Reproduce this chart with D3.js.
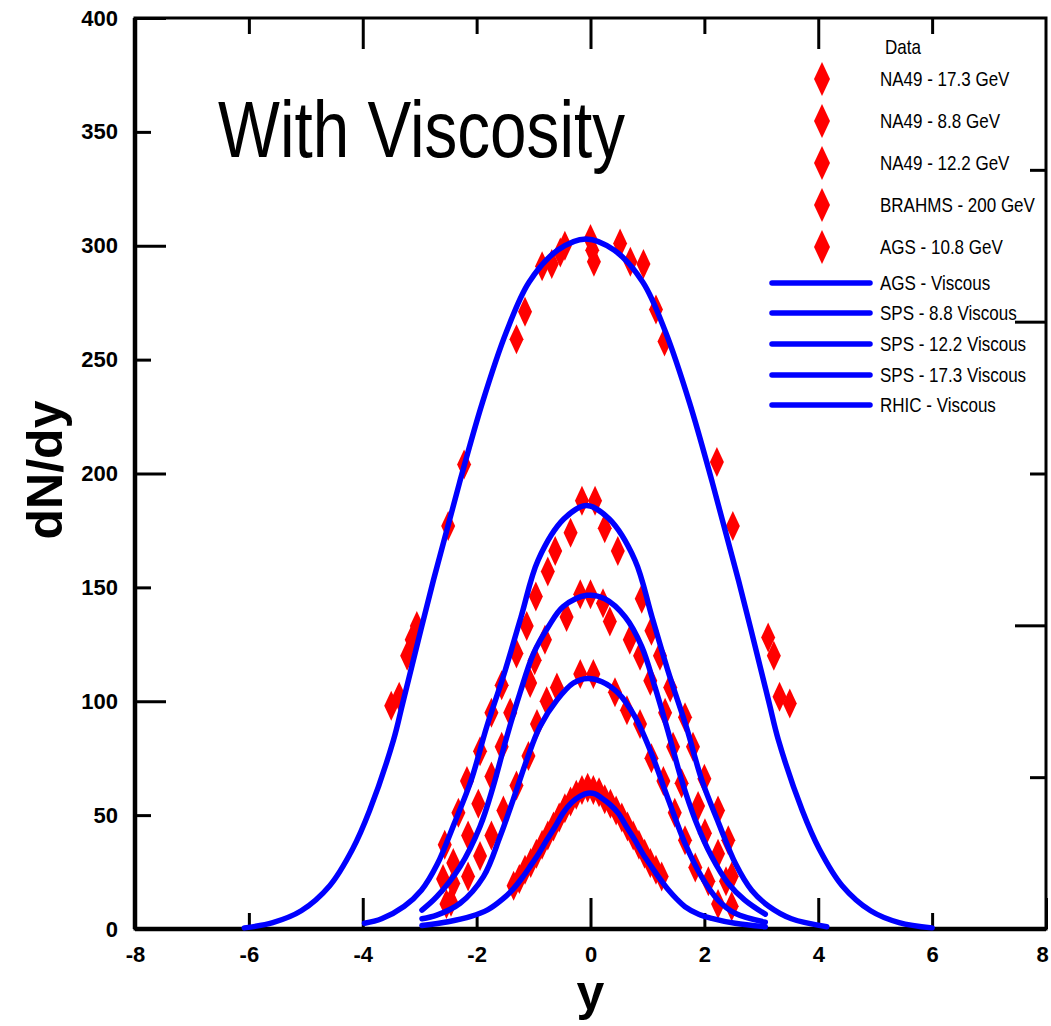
<!DOCTYPE html>
<html>
<head>
<meta charset="utf-8">
<script src="https://cdn.jsdelivr.net/npm/d3@7"></script>
<style>
  body { margin: 0; background: #fff; }
  svg { display: block; }
  text { font-family: "Liberation Sans", Arial, sans-serif; fill: #000; }
</style>
</head>
<body>
<svg id="chart" width="1051" height="1026"></svg>
<script>
// data: [y, dN/dy]
const brahms200 = [[-3.5,98],[-3.36,102],[-3.22,120],[-3.14,127],[-3.05,133],[-2.5,177],[-2.22,204],
  [-1.3,259],[-1.15,271],[-0.85,291],[-0.68,292],[-0.53,297],[-0.45,300],[0,303],[0.03,298],[0.06,293],
  [0.52,301],[0.7,293],[0.93,292],[1.15,272],[1.3,258],[2.22,205],[2.5,177],[3.12,128],[3.22,120],[3.32,102],[3.5,99]];

const na49_173 = [[-2.53,11],[-2.59,22],[-2.56,37],[-2.32,51],[-2.17,65],[-1.94,78],[-1.74,95],[-1.56,107],
  [-1.3,121],[-1.12,133],[-0.96,146],[-0.75,157],[-0.62,166],[-0.35,174],[-0.15,188],[0.08,188],[0.25,176],
  [0.48,166],[0.9,145],[1.07,131],[1.22,120],[1.4,106],[1.66,93],[1.8,80],[2.0,66],[2.24,52],[2.42,39],[2.48,23],[2.48,10]];

const na49_122 = [[-2.45,12],[-2.41,20],[-2.41,29],[-2.15,41],[-1.97,55],[-1.74,67],[-1.56,80],[-1.41,95],
  [-1.06,108],[-0.98,118],[-0.8,127],[-0.42,137],[-0.18,147],[0,147],[0.22,143],[0.34,135],[0.69,127],
  [0.87,120],[1.05,109],[1.31,95],[1.45,80],[1.6,64],[1.89,54],[2.01,42],[2.24,33],[2.38,21],[2.24,11]];

const na49_88 = [[-2.15,23],[-1.94,32],[-1.74,41],[-1.53,52],[-1.3,63],[-1.09,76],[-0.94,90],[-0.77,100],
  [-0.59,106],[-0.18,112],[0.05,112],[0.43,104],[0.64,96],[0.87,90],[1.07,75],[1.28,65],[1.48,51],
  [1.66,39],[1.84,27],[2.07,21]];

const ags108 = [[-1.35,19],[-1.25,22],[-1.15,26],[-1.05,29],[-0.95,33],[-0.85,37],[-0.75,41],[-0.65,45],
  [-0.55,49],[-0.45,53],[-0.35,56],[-0.25,59],[-0.15,61],[-0.05,62],[0.05,61],[0.15,60],[0.25,57],
  [0.35,55],[0.45,52],[0.55,49],[0.65,45],[0.75,41],[0.85,37],[0.95,33],[1.05,29],[1.15,26],[1.25,23]];

// viscous hydro curves
const agsViscous = [[-2.96,1.5],[-2.5,3.2],[-2.1,5.5],[-1.8,8.5],[-1.55,13],[-1.36,17.5],[-1.2,22.5],
  [-1.06,27.5],[-0.9,33.5],[-0.77,39],[-0.62,45],[-0.48,51],[-0.33,55.5],[-0.18,58.3],[-0.05,59.6],
  [0.08,59.3],[0.2,57.4],[0.35,54.5],[0.49,50.8],[0.63,45],[0.78,39],[0.92,33],[1.07,27.4],[1.22,22],
  [1.37,17.1],[1.52,13],[1.66,9.8],[1.9,6.5],[2.13,4.7],[2.54,2.5],[3.07,1]];

const sps88Viscous = [[-2.96,4.5],[-2.7,6.1],[-2.29,11.3],[-1.88,23],[-1.59,40.5],[-1.36,56.6],[-1.12,74.2],
  [-0.89,88.8],[-0.59,100.5],[-0.3,108],[-0.05,110],[0.2,108.6],[0.49,103.5],[0.78,93.2],[1.07,77.1],
  [1.37,56.6],[1.66,37.6],[1.95,23],[2.24,12.7],[2.54,6.9],[3.07,3]];

const sps122Viscous = [[-2.96,8.3],[-2.7,14.2],[-2.29,27.4],[-1.94,45],[-1.71,62.5],[-1.47,84.4],
  [-1.24,103.5],[-1.0,121],[-0.74,132.7],[-0.48,141.5],[-0.06,146.5],[0.25,145],[0.61,137],[0.9,124],
  [1.13,106.4],[1.37,86],[1.6,65.4],[1.84,47.9],[2.13,31.7],[2.42,20],[2.71,12.7],[3.07,6.5]];

const sps173Viscous = [[-3.97,2.5],[-3.67,4.5],[-3.27,10],[-2.97,17],[-2.69,28.5],[-2.39,46.5],[-2.1,65],
  [-1.82,89],[-1.53,111],[-1.22,137],[-0.92,162],[-0.47,180],[-0.07,186],[0.33,180],[0.78,162],
  [1.08,137],[1.39,111],[1.68,89],[1.96,65],[2.25,46.5],[2.55,28.5],[2.83,17],[3.13,10],[3.53,4.5],[4.15,1]];

const rhicViscous = [[-6.08,0.5],[-5.58,2.8],[-5.08,8],[-4.58,19],[-4.18,35],[-3.88,52],[-3.46,83],
  [-3.29,100],[-2.76,153],[-2.3,196],[-1.9,231],[-1.48,262],[-1.08,284],[-0.58,298],[-0.08,303],
  [0.42,298],[0.92,284],[1.32,262],[1.74,231],[2.14,196],[2.6,153],[3.13,100],[3.3,83],[3.72,52],
  [4.02,35],[4.42,19],[4.92,8],[5.42,2.8],[6.0,0.5]];

const dataSeries = [
  {name: "NA49 - 17.3 GeV", values: na49_173},
  {name: "NA49 - 8.8 GeV", values: na49_88},
  {name: "NA49 - 12.2 GeV", values: na49_122},
  {name: "BRAHMS - 200 GeV", values: brahms200},
  {name: "AGS - 10.8 GeV", values: ags108}
];
const curveSeries = [
  {name: "AGS - Viscous", values: agsViscous},
  {name: "SPS - 8.8 Viscous", values: sps88Viscous},
  {name: "SPS - 12.2 Viscous", values: sps122Viscous},
  {name: "SPS - 17.3 Viscous", values: sps173Viscous},
  {name: "RHIC - Viscous", values: rhicViscous}
];

const xTicks = [-8, -6, -4, -2, 0, 2, 4, 6, 8];
const yTicks = [0, 50, 100, 150, 200, 250, 300, 350, 400];

const svg = d3.select("#chart");
const plotLeft = 135, plotRight = 1046, plotTop = 18, plotBottom = 929;

const x = d3.scaleLinear().domain([-8, 8]).range([plotLeft, plotRight]);
const y = d3.scaleLinear().domain([0, 400]).range([plotBottom, plotTop]);
const yRight = d3.scaleLinear().domain([0, 6]).range([plotBottom, plotTop]); // unlabelled right axis

const longTick = 31, shortTick = 16;

// bottom axis
const gx = svg.append("g").attr("transform", `translate(0,${plotBottom})`)
  .call(d3.axisBottom(x).tickValues(xTicks).tickSizeInner(-longTick).tickSizeOuter(0)
    .tickPadding(17).tickFormat(d => String(d)));
gx.selectAll(".tick line").attr("y2", d => d % 4 === 0 ? -longTick : -shortTick);
gx.selectAll(".tick text").filter(d => d === 8).attr("x", -4); // keep last label inside the page

// left axis
const gy = svg.append("g").attr("transform", `translate(${plotLeft},0)`)
  .call(d3.axisLeft(y).tickValues(yTicks).tickSizeInner(-longTick).tickSizeOuter(0)
    .tickPadding(17).tickFormat(d => String(d)));
gy.selectAll(".tick line").attr("x2", d => d % 100 === 0 ? longTick : shortTick);

// top axis, no labels
const gt = svg.append("g").attr("transform", `translate(0,${plotTop})`)
  .call(d3.axisTop(x).tickValues([-6, -4, -2, 0, 2, 4, 6]).tickSizeInner(-longTick).tickSizeOuter(0).tickFormat(""));
gt.selectAll(".tick line").attr("y2", d => d % 4 === 0 ? longTick : shortTick);

// right axis, no labels
const gr = svg.append("g").attr("transform", `translate(${plotRight},0)`)
  .call(d3.axisRight(yRight).tickValues([1, 2, 3, 4, 5]).tickSizeInner(-longTick).tickSizeOuter(0).tickFormat(""));
gr.selectAll(".tick line").attr("x2", d => d % 2 === 0 ? -longTick : -shortTick);

svg.selectAll(".domain").remove();
svg.selectAll(".tick line").attr("stroke", "#000").attr("stroke-width", 3);
svg.selectAll(".tick text")
  .style("font-family", "'Liberation Sans', Arial, sans-serif")
  .style("font-size", "22px").style("font-weight", "bold").attr("fill", "#000");

// frame
svg.append("rect")
  .attr("x", plotLeft).attr("y", plotTop).attr("width", plotRight - plotLeft).attr("height", plotBottom - plotTop)
  .attr("fill", "none").attr("stroke", "#000").attr("stroke-width", 3);
svg.append("line").attr("x1", plotLeft).attr("x2", plotLeft).attr("y1", plotTop).attr("y2", plotBottom)
  .attr("stroke", "#000").attr("stroke-width", 4.5);
svg.append("line").attr("x1", plotLeft).attr("x2", plotRight).attr("y1", plotBottom).attr("y2", plotBottom)
  .attr("stroke", "#000").attr("stroke-width", 4.5);

// diamonds
const diamond = (w, h) => `M0,${-h / 2}L${w / 2},0L0,${h / 2}L${-w / 2},0Z`;

dataSeries.forEach(s => {
  svg.append("g").selectAll("path").data(s.values).join("path")
    .attr("d", diamond(14, 30))
    .attr("transform", d => `translate(${x(d[0])},${y(d[1])})`)
    .attr("fill", "#ff0000");
});

// curves on top
const line = d3.line().x(d => x(d[0])).y(d => y(d[1])).curve(d3.curveCatmullRom.alpha(0.5));
svg.append("g").selectAll("path").data(curveSeries).join("path")
  .attr("d", d => line(d.values))
  .attr("fill", "none").attr("stroke", "#0000ff").attr("stroke-width", 5.5)
  .attr("stroke-linecap", "round").attr("stroke-linejoin", "round");

// axis titles
svg.append("text").attr("transform", "translate(62,470) rotate(-90)")
  .attr("text-anchor", "middle").style("font-size", "50px").style("font-weight", "bold").text("dN/dy");
svg.append("text").attr("x", x(0)).attr("y", 1010)
  .attr("text-anchor", "middle").style("font-size", "50px").style("font-weight", "bold").text("y");

// plot title, narrow face
svg.append("text").attr("transform", "translate(218,157) scale(0.82,1)")
  .style("font-size", "80px").text("With Viscosity");

// legend
const narrow = 0.81;
const lg = svg.append("g");
lg.append("text").attr("transform", `translate(903,47) scale(${narrow},1)`)
  .attr("text-anchor", "middle").attr("dy", "0.35em").style("font-size", "21px").text("Data");

const dataRows = [79, 121, 163, 205, 247];
dataSeries.forEach((s, i) => {
  lg.append("path").attr("d", diamond(16, 34))
    .attr("transform", `translate(822,${dataRows[i]})`).attr("fill", "#ff0000");
  lg.append("text").attr("transform", `translate(880,${dataRows[i]}) scale(${narrow},1)`)
    .attr("dy", "0.35em").style("font-size", "21px").text(s.name);
});

const lineRows = [283, 313, 344, 375, 405];
curveSeries.forEach((s, i) => {
  lg.append("line").attr("x1", 772).attr("x2", 870).attr("y1", lineRows[i]).attr("y2", lineRows[i])
    .attr("stroke", "#0000ff").attr("stroke-width", 5.5).attr("stroke-linecap", "round");
  lg.append("text").attr("transform", `translate(880,${lineRows[i]}) scale(${narrow},1)`)
    .attr("dy", "0.35em").style("font-size", "21px").text(s.name);
});
</script>
</body>
</html>
